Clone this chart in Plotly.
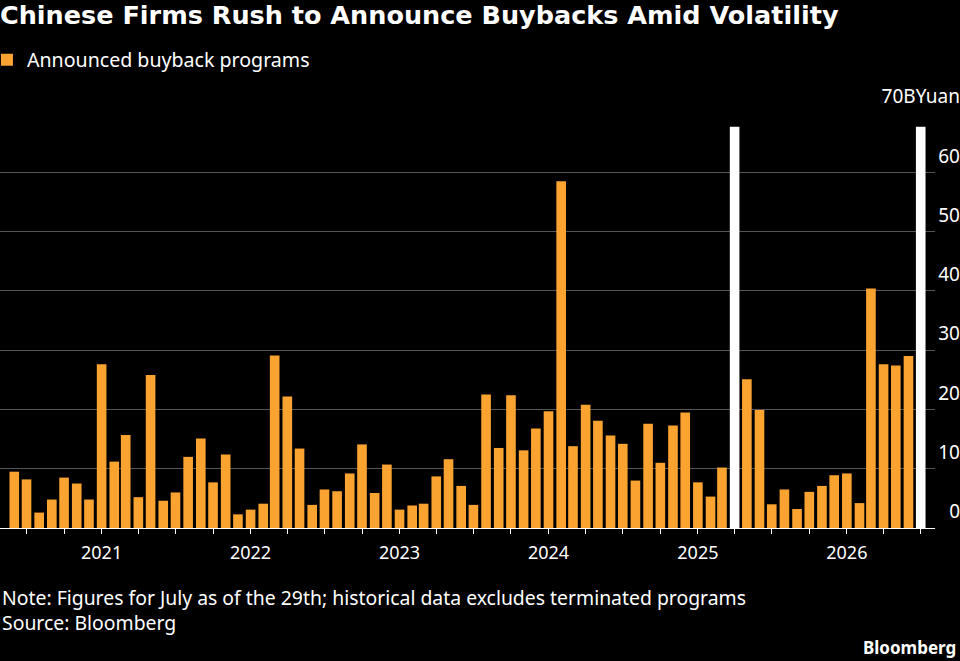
import plotly.graph_objects as go

# monthly announced buyback programs, billion yuan (Jun 2020 - Jul 2026)
start_year, start_month = 2020, 6
buybacks = [
    9.5, 8.2, 2.6, 4.8, 8.5, 7.5, 4.8,                                # 2020 Jun-Dec
    27.6, 11.2, 15.7, 5.2, 25.8, 4.6, 6.0, 12.0, 15.1, 7.7, 12.4, 2.3,   # 2021
    3.1, 4.1, 29.1, 22.2, 13.4, 3.9, 6.5, 6.2, 9.2, 14.1, 5.9, 10.7,     # 2022
    3.1, 3.8, 4.1, 8.7, 11.6, 7.1, 3.9, 22.5, 13.5, 22.4, 13.1, 16.8,    # 2023
    19.7, 58.5, 13.8, 20.8, 18.1, 15.6, 14.2, 8.0, 17.6, 11.0, 17.3, 19.5,  # 2024
    7.7, 5.3, 10.2, None, 25.1, 19.9, 4.0, 6.5, 3.2, 6.1, 7.1, 8.9,     # 2025
    9.2, 4.2, 40.4, 27.6, 27.4, 29.0, None,                            # 2026 Jan-Jul
]
months = []
for i in range(len(buybacks)):
    y = start_year + (start_month - 1 + i) // 12
    m = (start_month - 1 + i) % 12 + 1
    months.append("%d-%02d-01" % (y, m))

# highlighted months (white markers)
highlight_months = ["2025-04-01", "2026-07-01"]
highlight_values = [67.7, 67.7]

y_ticks = [0, 10, 20, 30, 40, 50, 60, 70]
y_ticktext = ["0", "10", "20", "30", "40", "50", "60", "70BYuan"]

ORANGE = "#FAA330"
W, H = 960, 661
PLOT_TOP, PLOT_BOTTOM, PLOT_RIGHT = 113, 528, 935
TXT = "Liberation Sans Narrow, Arial Narrow, Noto Sans, sans-serif"


def py(px):
    # pixel row -> paper y
    return (PLOT_BOTTOM - px) / (PLOT_BOTTOM - PLOT_TOP)


bar_width = 23.6 * 86400000

fig = go.Figure()
fig.add_trace(go.Bar(x=months, y=buybacks, name="Announced buyback programs",
                     marker=dict(color=ORANGE, line=dict(width=0)), width=bar_width))
fig.add_trace(go.Bar(x=highlight_months, y=highlight_values, yaxis="y2", showlegend=False,
                     marker=dict(color="white", line=dict(width=0)), width=bar_width))

fig.update_layout(
    width=W, height=H,
    paper_bgcolor="black", plot_bgcolor="black",
    margin=dict(l=0, r=0, t=PLOT_TOP, b=H - PLOT_BOTTOM, pad=0, autoexpand=False),
    font=dict(family=TXT, color="white", size=18),
    title=dict(text="Chinese Firms Rush to Announce Buybacks Amid Volatility",
               x=0.0, xanchor="left", xref="container", y=1 - 6 / H, yanchor="top", yref="container",
               font=dict(family="DejaVu Sans", size=25.5, color="white", weight="bold")),
    showlegend=True,
    legend=dict(orientation="h", x=-0.0136, xanchor="left", y=py(60), yanchor="middle",
                font=dict(family="Noto Sans", size=19.6, color="white"), bgcolor="rgba(0,0,0,0)"),
    bargap=0.2,
    xaxis=dict(type="date", domain=[0, PLOT_RIGHT / W],
               range=["2020-04-27", "2026-08-05"],
               dtick="M12", tick0="2021-01-01", tickformat="%Y",
               ticks="outside", ticklen=5, tickcolor="white", tickwidth=1,
               minor=dict(dtick="M3", tick0="2020-01-01", ticks="outside", ticklen=5,
                          tickcolor="white", tickwidth=1, showgrid=False),
               showline=True, linecolor="white", linewidth=1,
               showgrid=False, zeroline=False, ticklabelstandoff=3,
               tickfont=dict(family=TXT, size=18, color="white")),
    yaxis=dict(range=[0, 70], tickvals=y_ticks, showticklabels=False, side="right",
               showgrid=True, gridcolor="#555555", gridwidth=1, zeroline=False, showline=False),
    yaxis2=dict(range=[0, 70], overlaying="y", side="left", anchor="free", position=1.0,
                tickvals=y_ticks, ticktext=y_ticktext, ticklabelposition="outside top",
                ticklabelshift=-3,
                showgrid=False, zeroline=False, showline=False, ticks="",
                tickfont=dict(family=TXT, size=19, color="white")),
    annotations=[
        dict(text="Note: Figures for July as of the 29th; historical data excludes terminated programs",
             xref="paper", yref="paper", x=0, y=py(597), xanchor="left", yanchor="middle",
             showarrow=False, font=dict(family=TXT, size=19.4, color="white")),
        dict(text="Source: Bloomberg",
             xref="paper", yref="paper", x=0, y=py(622), xanchor="left", yanchor="middle",
             showarrow=False, font=dict(family=TXT, size=19.4, color="white")),
        dict(text="<b>Bloomberg</b>",
             xref="paper", yref="paper", x=1.0, y=py(647), xanchor="right", yanchor="middle",
             xshift=-2, showarrow=False, font=dict(family="Noto Sans", size=17, color="white")),
    ],
)

fig.write_html("out.html", config={"displayModeBar": False},
               post_script="document.body.style.margin='0';document.body.style.overflow='hidden';")
